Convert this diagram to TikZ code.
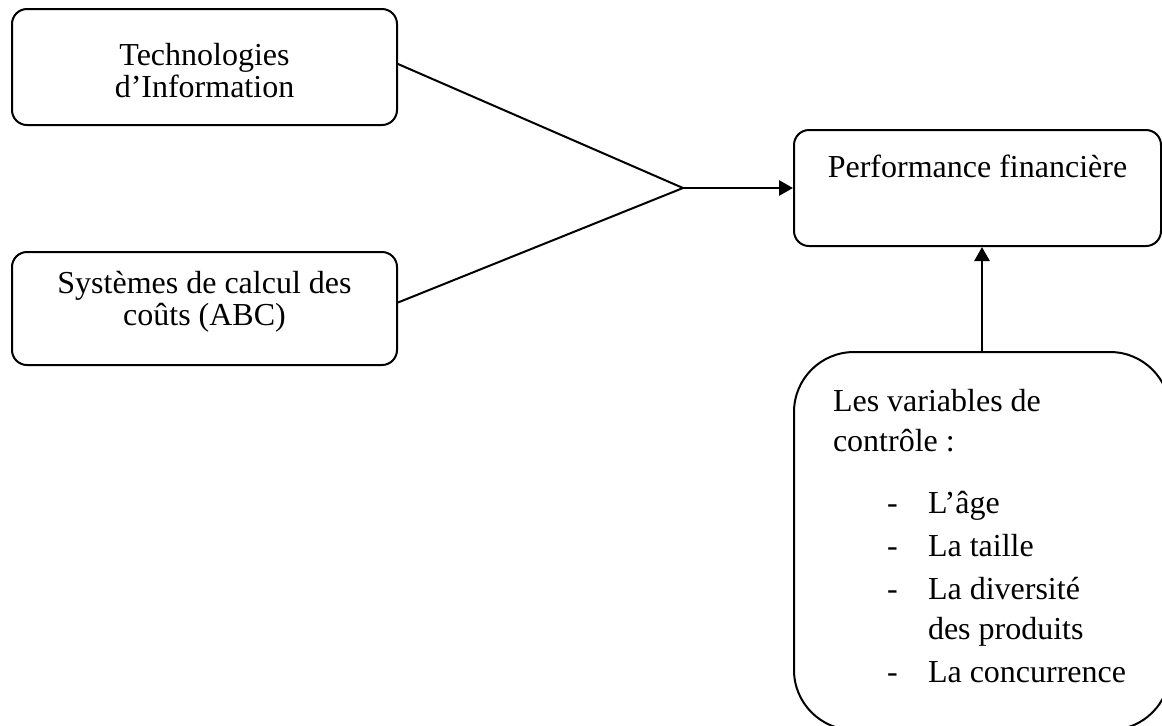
\documentclass[tikz,border=0pt]{standalone}
\usepackage{fontspec}
\setmainfont{Liberation Serif}
\usepackage{tikz}
\usetikzlibrary{positioning,calc,arrows.meta}

\newcommand{\ctrlitem}[1]{\hspace*{27pt}\makebox[20.5pt][l]{-}#1}

\tikzset{
    varbox/.style={draw, line width=1pt, rounded corners=7.5pt, align=center,
        inner sep=0pt, font=\fontsize{16}{16}\selectfont},
    ctrlbox/.style={varbox, rounded corners=30pt, align=flush left, text width=149pt,
        font=\fontsize{16}{20}\selectfont},
    link/.style={line width=1pt},
    effect/.style={line width=1.4pt, -{Triangle[length=7pt,width=7.5pt]}}
}

\begin{document}
\begin{tikzpicture}[x=0.5pt, y=-0.5pt]
    \useasboundingbox (0,0) rectangle (1162,725);
    \clip (0,0) rectangle (1162,725);

    % Explanatory variables
    \node[varbox, minimum width=192.5pt, minimum height=58pt, text height=31pt] (ti) at (204.5,67)
        {Technologies\\d’Information};
    \node[varbox, minimum width=192.5pt, minimum height=56.5pt, text depth=10.5pt] (abc) at (204.5,308.5)
        {Systèmes de calcul des\\coûts (ABC)};

    % Dependent variable
    \node[varbox, minimum width=183.5pt, minimum height=58pt, text depth=22pt] (pf) at (977.5,188)
        {Performance financière};

    % Control variables
    \node[ctrlbox, minimum width=188pt, minimum height=189pt, text depth=140.7pt] (ctrl) at (982,541)
        {Les variables de\\
         contrôle :\\[11pt]
         \ctrlitem{L’âge}\\[1.5pt]
         \ctrlitem{La taille}\\[1.5pt]
         \ctrlitem{La diversité}\\
         \hspace*{47.5pt}des produits\\[1.5pt]
         \ctrlitem{La concurrence}};

    % Links
    \coordinate (join) at (683,188);
    \draw[link] ([yshift=1.5pt]ti.east) -- (join);
    \draw[link] ([yshift=3pt]abc.east) -- (join);
    \draw[effect] (join) -- (pf.west);
    \draw[effect] (ctrl.north) -- (ctrl.north |- pf.south);
\end{tikzpicture}
\end{document}
